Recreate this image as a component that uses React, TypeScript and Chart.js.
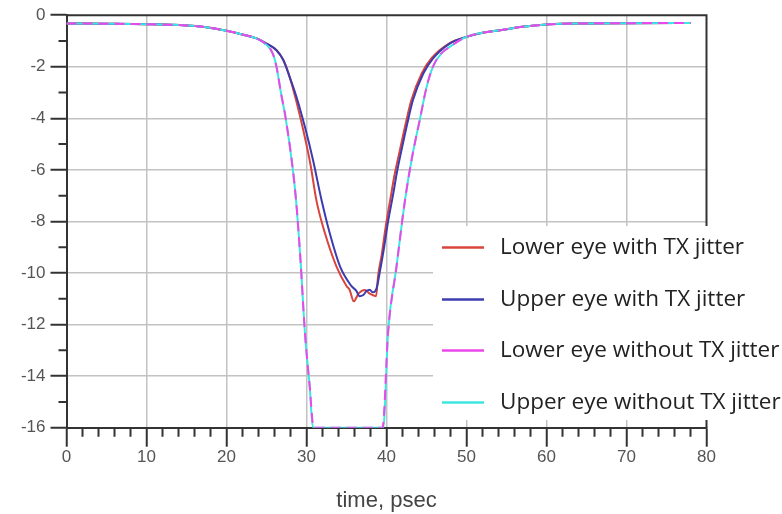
import React, { useEffect, useRef } from 'react';
import { Chart, registerables } from 'chart.js';

Chart.register(...registerables);

// ---- data (time in psec, eye level) ----
const seriesLabels = [
  'Lower eye with TX jitter',
  'Upper eye with TX jitter',
  'Lower eye without TX jitter',
  'Upper eye without TX jitter',
];
const seriesColors = ['#d9443c', '#3c3cae', '#ea48ea', '#3ee6e0'];

const lowerJitterTime = [0, 5, 10, 15, 17, 20, 22, 23.75, 25, 26.25, 27.1, 27.9, 28.7, 29.7, 30.5, 31.25, 32.3, 33.75, 35.0, 35.4, 35.9, 36.5, 37.3, 37.9, 38.7, 38.95, 39.4, 39.9, 40.5, 41.0, 41.7, 42.4, 43.1, 44.4, 45.6, 47.8, 50, 52, 54.2, 57, 60.4, 65, 70, 78];
const lowerJitter = [-0.32, -0.33, -0.35, -0.4, -0.45, -0.6, -0.75, -0.9, -1.1, -1.36, -1.74, -2.4, -3.3, -4.6, -5.8, -7.2, -8.45, -9.75, -10.5, -10.66, -11.1, -10.8, -10.66, -10.8, -10.9, -10.1, -9.3, -8.2, -7.1, -6.2, -5.2, -4.2, -3.3, -2.26, -1.68, -1.1, -0.84, -0.68, -0.58, -0.45, -0.35, -0.32, -0.31, -0.3];

const upperJitterTime = [0, 5, 10, 15, 17, 20, 22, 23.75, 25, 26.25, 27.1, 27.9, 28.75, 29.8, 30.8, 31.9, 32.9, 34.2, 35.6, 36.25, 36.6, 37.1, 37.5, 37.9, 38.3, 38.75, 39.2, 39.7, 40.2, 40.8, 41.3, 41.9, 42.6, 43.3, 44.6, 45.8, 47.9, 50, 52, 54.2, 57, 60.4, 65, 70, 78];
const upperJitter = [-0.32, -0.33, -0.35, -0.4, -0.45, -0.6, -0.75, -0.9, -1.1, -1.36, -1.74, -2.4, -3.17, -4.33, -5.6, -7.2, -8.45, -9.75, -10.5, -10.7, -10.9, -10.85, -10.7, -10.65, -10.75, -10.6, -9.9, -9.0, -8.0, -7.0, -6.1, -5.2, -4.2, -3.3, -2.26, -1.68, -1.1, -0.84, -0.68, -0.58, -0.45, -0.35, -0.32, -0.31, -0.3];

const lowerNoJitterTime = [0, 5, 10, 15, 17, 20, 22, 23.75, 25, 25.8, 26.25, 26.8, 27.4, 28.3, 28.7, 29.25, 29.8, 30.4, 30.9, 39.5, 40.2, 41.25, 42.3, 43.2, 44.2, 45.0, 45.8, 46.8, 47.9, 50, 52, 54.2, 57, 60.4, 65, 70, 78];
const lowerNoJitter = [-0.32, -0.33, -0.35, -0.4, -0.45, -0.6, -0.75, -0.9, -1.15, -1.5, -2.0, -3.0, -4.0, -6.0, -7.2, -9.5, -12.3, -14.4, -16, -16, -12.3, -9.75, -7.2, -5.5, -4.0, -2.8, -2.0, -1.5, -1.23, -0.84, -0.68, -0.58, -0.45, -0.35, -0.32, -0.31, -0.3];

const upperNoJitterTime = [0, 5, 10, 15, 17, 20, 22, 23.75, 25, 25.8, 26.25, 26.8, 27.4, 28.3, 28.7, 29.25, 29.8, 30.4, 30.8, 39.6, 40.2, 41.25, 42.3, 43.2, 44.2, 45.0, 45.8, 46.8, 47.9, 50, 52, 54.2, 57, 60.4, 65, 70, 78];
const upperNoJitter = [-0.32, -0.33, -0.35, -0.4, -0.45, -0.6, -0.75, -0.9, -1.15, -1.5, -2.0, -3.0, -4.0, -6.0, -7.2, -9.5, -12.3, -14.4, -16, -16, -12.3, -9.75, -7.2, -5.5, -4.0, -2.8, -2.0, -1.5, -1.23, -0.84, -0.68, -0.58, -0.45, -0.35, -0.32, -0.31, -0.3];

const xMin = 0, xMax = 80, xMajorStep = 10, xMinorStep = 2;
const yMin = -16, yMax = 0, yMajorStep = 2, yMinorStep = 1;
const xTitle = 'time, psec';

const toPoints = (xs: number[], ys: number[]) => xs.map((x, i) => ({ x, y: ys[i] }));

const AXIS_COLOR = '#333333';
const GRID_COLOR = '#c2c2c2';
const TICK_FONT = { family: '"Liberation Sans", Arial, sans-serif', size: 17 };

const framePlugin = {
  id: 'frameAndLegend',
  beforeDatasetsDraw(chart: any) {
    const { ctx, chartArea, scales } = chart;
    const xs = scales.x, ys = scales.y;
    ctx.save();
    // top and right border
    ctx.strokeStyle = AXIS_COLOR;
    ctx.lineWidth = 2;
    ctx.beginPath();
    ctx.moveTo(chartArea.left, chartArea.top);
    ctx.lineTo(chartArea.right, chartArea.top);
    ctx.lineTo(chartArea.right, chartArea.bottom);
    ctx.stroke();
    // minor ticks x
    ctx.beginPath();
    for (let v = xMin; v <= xMax + 1e-9; v += xMinorStep) {
      if (Math.abs(v % xMajorStep) < 1e-9) continue;
      const px = xs.getPixelForValue(v);
      ctx.moveTo(px, chartArea.bottom);
      ctx.lineTo(px, chartArea.bottom + 9);
    }
    // minor ticks y
    for (let v = yMin; v <= yMax + 1e-9; v += yMinorStep) {
      if (Math.abs(v % yMajorStep) < 1e-9) continue;
      const py = ys.getPixelForValue(v);
      ctx.moveTo(chartArea.left, py);
      ctx.lineTo(chartArea.left - 8, py);
    }
    ctx.stroke();

    // legend box
    ctx.fillStyle = '#ffffff';
    ctx.fillRect(433, 226, 349, 194);
    const rowY = [247.5, 299.5, 350.5, 402.5];
    chart.data.datasets.forEach((ds: any, i: number) => {
      const y = rowY[i];
      ctx.strokeStyle = ds.borderColor;
      ctx.lineWidth = 2.5;
      ctx.setLineDash([]);
      ctx.beginPath();
      ctx.moveTo(442, y);
      ctx.lineTo(484, y);
      ctx.stroke();
      ctx.fillStyle = '#222222';
      ctx.font = '22.5px "Open Sans", sans-serif';
      ctx.textBaseline = 'middle';
      ctx.textAlign = 'left';
      ctx.fillText(ds.label, 500, y);
    });
    ctx.restore();
  },
};

export default function App() {
  const ref = useRef<HTMLCanvasElement | null>(null);
  useEffect(() => {
    document.body.style.margin = '0';
    if (!ref.current) return;
    const series = [
      toPoints(lowerJitterTime, lowerJitter),
      toPoints(upperJitterTime, upperJitter),
      toPoints(lowerNoJitterTime, lowerNoJitter),
      toPoints(upperNoJitterTime, upperNoJitter),
    ];
    const orders = [4, 3, 1, 2];
    const chart = new Chart(ref.current, {
      type: 'line',
      data: {
        datasets: series.map((data, i) => ({
          label: seriesLabels[i],
          data,
          borderColor: seriesColors[i],
          backgroundColor: seriesColors[i],
          borderWidth: 2,
          pointRadius: 0,
          cubicInterpolationMode: 'monotone',
          fill: false,
          order: orders[i],
          borderDash: i === 2 ? [10, 6] : [],
        })),
      },
      options: {
        responsive: false,
        animation: false,
        events: [],
        layout: { padding: { left: 0, right: 75.5, top: 15, bottom: 0 } },
        plugins: { legend: { display: false }, tooltip: { enabled: false } },
        scales: {
          x: {
            type: 'linear',
            min: xMin,
            max: xMax,
            afterFit: (s: any) => { s.height = 86.3; },
            ticks: { stepSize: xMajorStep, color: '#555555', font: TICK_FONT, padding: 0, maxRotation: 0 },
            grid: {
              color: (c: any) => (c.tick && (c.tick.value === xMin || c.tick.value === xMax) ? 'rgba(0,0,0,0)' : GRID_COLOR),
              lineWidth: 1.5,
              tickColor: AXIS_COLOR,
              tickWidth: 2,
              tickLength: 19,
            },
            border: { display: true, color: AXIS_COLOR, width: 2 },
            title: { display: true, text: xTitle, color: '#444444', font: { family: '"Liberation Sans", Arial, sans-serif', size: 22 }, padding: { top: 0, bottom: 0 } },
          },
          y: {
            type: 'linear',
            min: yMin,
            max: yMax,
            afterFit: (s: any) => { s.width = 66.5; },
            ticks: { stepSize: yMajorStep, color: '#555555', font: TICK_FONT, padding: 5 },
            grid: {
              color: (c: any) => (c.tick && (c.tick.value === yMin || c.tick.value === yMax) ? 'rgba(0,0,0,0)' : GRID_COLOR),
              lineWidth: 1.5,
              tickColor: AXIS_COLOR,
              tickWidth: 2,
              tickLength: 16,
            },
            border: { display: true, color: AXIS_COLOR, width: 2 },
          },
        },
      },
      plugins: [framePlugin],
    } as any);
    return () => chart.destroy();
  }, []);
  return (
    <div style={{ position: 'absolute', left: 0, top: 0, width: 782, height: 514, background: '#fff' }}>
      <canvas ref={ref} width={782} height={514} style={{ display: 'block' }} />
    </div>
  );
}
